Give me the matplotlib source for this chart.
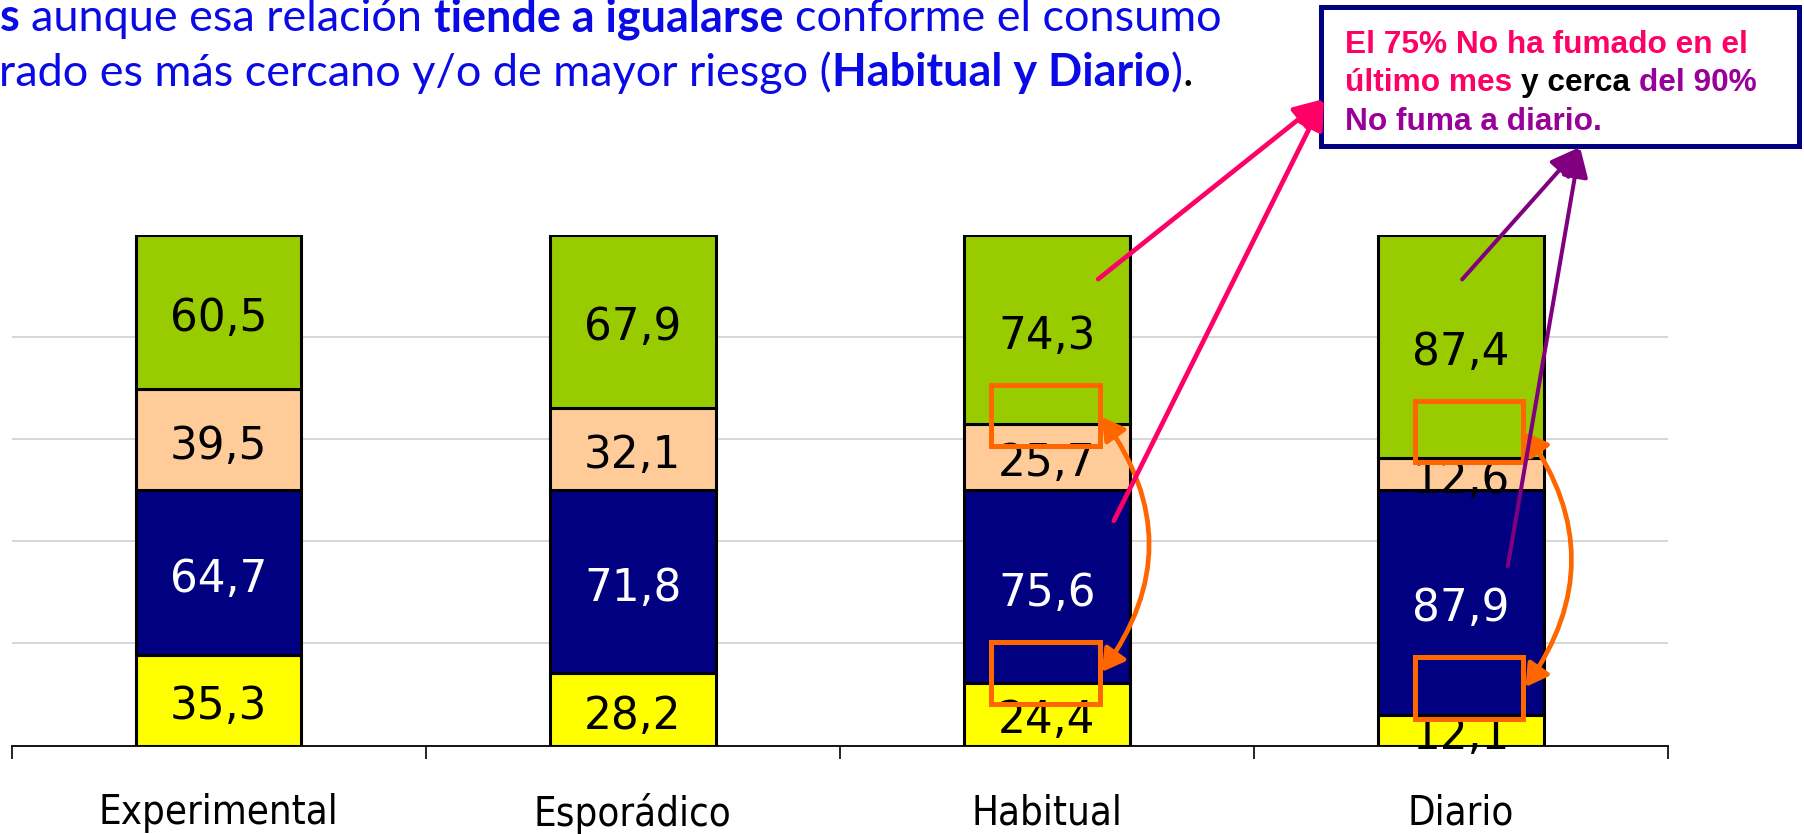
import numpy as np
import matplotlib.pyplot as plt
from matplotlib.patches import Rectangle
from matplotlib.transforms import IdentityTransform

categorias = ['Experimental', 'Esporádico', 'Habitual', 'Diario']
# par inferior (mes) y par superior (diario), cada par suma 100
mes_si = [35.3, 28.2, 24.4, 12.1]
mes_no = [64.7, 71.8, 75.6, 87.9]
diario_si = [39.5, 32.1, 25.7, 12.6]
diario_no = [60.5, 67.9, 74.3, 87.4]

series = [mes_si, mes_no, diario_si, diario_no]
colores = ['#FFFF00', '#000080', '#FFCC99', '#99CC00']
col_texto = ['black', 'white', 'black', 'black']

W, H = 1804, 834
fig = plt.figure(figsize=(W / 100, H / 100), dpi=100)
ax = fig.add_axes([11.5 / W, 88.5 / H, (1668 - 11.5) / W, 510.8 / H])

x = np.arange(len(categorias))
base = np.zeros(len(categorias))
for vals, c, ct in zip(series, colores, col_texto):
    vals = np.array(vals)
    ax.bar(x, vals, 0.40, bottom=base, color=c, edgecolor='black', linewidth=2.2, zorder=2)
    for xi, b, v in zip(x, base, vals):
        ax.text(xi, b + v / 2 - 0.8, f'{v:.1f}'.replace('.', ','), ha='center', va='center_baseline',
                fontsize=31.5, color=ct, zorder=4, clip_on=False)
    base = base + vals

ax.set_xlim(-0.5, 3.5)
ax.set_ylim(0, 200)
ax.set_yticks([40, 80, 120, 160])
ax.tick_params(axis='y', left=False, labelleft=False)
ax.yaxis.grid(True, color='#D0D0D0', linewidth=1.2)
ax.set_axisbelow(True)
for s in ['left', 'top', 'right']:
    ax.spines[s].set_visible(False)
ax.spines['bottom'].set_linewidth(1.3)

ax.set_xticks(x, categorias)
ax.set_xticks(np.arange(-0.5, 4, 1), minor=True)
ax.tick_params(axis='x', which='major', length=0, pad=34.5)
ax.tick_params(axis='x', which='minor', length=9.5, width=1.2, direction='out')
for lab in ax.get_xticklabels():
    lab.set_fontsize(28.8)
    lab.set_fontstretch('condensed')

# recuadros naranjas y flechas curvas
naranja = '#FF6600'
cajas = [(1.866, 117.1), (1.866, 16.4), (2.888, 111.0), (2.888, 10.5)]
for cx, cy in cajas:
    ax.add_patch(Rectangle((cx, cy), 0.263, 24, fill=False, edgecolor=naranja,
                           linewidth=3.6, zorder=5, clip_on=False))
arcos = [((2.133, 28.8), (2.133, 128.6), 0.36), ((3.156, 22.9), (3.156, 122.7), 0.35)]
for p0, p1, rad in arcos:
    ax.annotate('', xy=p1, xytext=p0, annotation_clip=False, zorder=6,
                arrowprops=dict(arrowstyle='<|-|>,head_length=0.6,head_width=0.35',
                                connectionstyle=f'arc3,rad={rad}', color=naranja, lw=3.4,
                                shrinkA=0, shrinkB=0, mutation_scale=22))

# flechas hacia el recuadro
rosa = '#FF0066'
morado = '#800080'
punta_rosa = (1324, H - 99)
punta_morada = (1580, H - 147)
flechas = [((2.124, 182.6), punta_rosa, rosa, 3.4), ((2.162, 88.0), punta_rosa, rosa, 3.4),
           ((3.003, 182.5), punta_morada, morado, 2.9), ((3.113, 70.2), punta_morada, morado, 2.9)]
for p0, p1, c, lw in flechas:
    ax.annotate('', xy=p1, xycoords='figure pixels', xytext=p0, textcoords='data',
                annotation_clip=False, zorder=7,
                arrowprops=dict(arrowstyle='-|>,head_length=0.9,head_width=0.4', color=c,
                                lw=lw, shrinkA=0, shrinkB=0, mutation_scale=20))

caja = Rectangle((1321, H - 146), 478, 139, transform=IdentityTransform(), facecolor='white',
                 edgecolor='#000080', linewidth=3.6, zorder=-1)
fig.add_artist(caja)

renderer = fig.canvas.get_renderer()


def linea(x0, y0, partes, size, family):
    gap = None
    for txt, peso, col in partes:
        if txt.startswith(' '):
            if gap is None:
                a = fig.text(0, 0, 'x x', fontsize=size, family=family, fontweight=peso)
                b = fig.text(0, 0, 'xx', fontsize=size, family=family, fontweight=peso)
                gap = a.get_window_extent(renderer).width - b.get_window_extent(renderer).width
                a.remove()
                b.remove()
            x0 += gap
            txt = txt[1:]
        t = fig.text(x0, y0, txt, transform=IdentityTransform(), fontsize=size, family=family,
                     fontweight=peso, color=col, ha='left', va='baseline')
        x0 = t.get_window_extent(renderer).x1


azul = '#0A0AE6'
linea(0, H - 31, [('s', 'bold', azul), (' aunque esa relación', 'normal', azul),
                  (' tiende a igualarse', 'bold', azul), (' conforme el consumo', 'normal', azul)],
      32.4, 'Lato')
linea(-1, H - 86, [('rado es más cercano y/o de mayor riesgo (', 'normal', azul),
                   ('Habitual y Diario', 'bold', azul), (')', 'normal', azul), ('.', 'normal', 'black')],
      32.4, 'Lato')

fam = 'Liberation Sans'
linea(1345, H - 53, [('El 75% No ha fumado en el', 'bold', rosa)], 22.8, fam)
linea(1345, H - 91, [('último mes', 'bold', rosa), (' y cerca', 'bold', 'black'),
                     (' del 90%', 'bold', '#990099')], 22.8, fam)
linea(1345, H - 130, [('No fuma a diario.', 'bold', '#990099')], 22.8, fam)

fig.savefig('out.png', dpi=100)
